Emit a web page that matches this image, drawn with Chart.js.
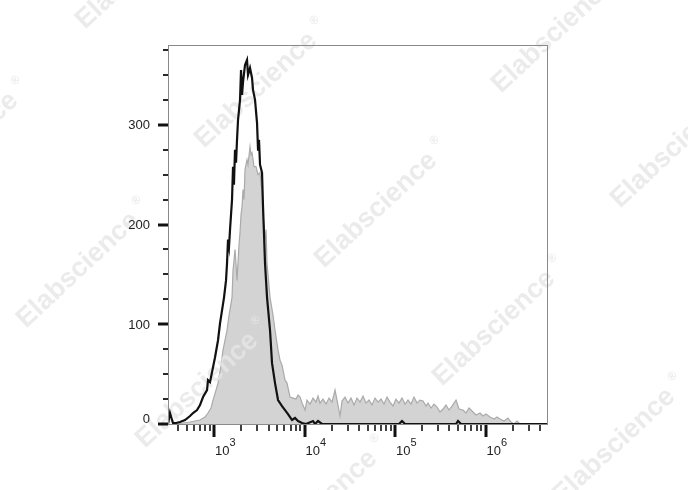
<!DOCTYPE html>
<html>
<head>
<meta charset="utf-8">
<script src="https://cdn.jsdelivr.net/npm/chart.js@4.4.1/dist/chart.umd.min.js"></script>
<style>
html,body{margin:0;padding:0;background:#fff;}
#wrap{width:688px;height:490px;position:relative;}
</style>
</head>
<body>
<div id="wrap"><canvas id="c" width="688" height="490"></canvas></div>
<script>
// ---- data (fluorescence intensity bins, event counts) ----
const blackX = [310,326,352,380,421,478,543,586,649,700,756,837,858,903,1026,1107,1165,1226,1290,1357,1392,1428,1465,1503,1581,1622,1660,1706,1750,1795,1842,1938,1988,2039,2092,2200,2315,2375,2499,2630,2697,2838,2987,3064,3140,3224,3392,3479,3569,3661,3852,4157,4375,4721,5097,5642,6088,6571,7275,7852,8476,9385,10389,12415,13062,14100,15611,110700,119500,129000,472100,496800,536200,4905000];
const blackY = [0,11,1,1,2,4,8,11,14,19,27,34,44,42,67,84,101,114,127,144,161,185,178,195,225,258,240,275,262,285,305,325,355,330,343,360,365,350,357,347,335,325,302,275,285,260,252,218,190,161,127,94,61,41,24,18,14,10,4,6,3,1,0,3,0,3,0,0,3,0,0,3,0,0];

const grayX = [380,543,617,700,795,858,926,975,1052,1107,1195,1257,1323,1392,1465,1581,1622,1706,1750,1795,1889,1938,1988,2039,2092,2146,2200,2315,2375,2499,2564,2630,2767,2911,3064,3224,3307,3392,3479,3661,3756,3852,4157,4487,4721,5097,5362,5642,6088,6406,6914,7463,8055,8476,8918,9385,10128,10656,11502,12415,13400,14100,14836,16012,17286,18658,20140,21730,22860,24680,25970,28030,30250,32650,35240,38040,41060,44310,47830,51620,55720,60140,64910,70050,75610,81600,88070,95050,102600,110700,119500,129000,139200,150300,162200,175000,188900,203900,220100,231600,250000,269800,291200,314300,339200,366000,395100,426400,472100,509600,564200,608800,657100,727500,785200,869800,938600,1013000,1121000,1241000,1340000,1446000,1601000,1773000,1914000,2065000,2229000,2406000];
const grayY = [0,2,3,4,7,11,16,24,34,41,59,74,84,94,109,127,154,175,160,144,180,192,210,218,235,225,255,265,260,278,270,272,258,258,250,252,240,235,210,185,195,161,127,109,94,74,64,59,44,41,27,26,25,29,27,21,14,24,20,26,22,28,21,25,20,26,22,34,24,8,23,27,21,26,19,26,22,28,21,24,19,26,22,25,20,27,22,18,25,21,26,20,24,20,27,21,24,23,18,21,16,20,17,12,15,19,14,18,24,15,14,11,16,12,9,11,8,10,7,5,7,5,3,6,2,0,3,0];

// ---- axes ----
const xRange = [310, 4905000];
const xMajorValues = [1e3, 1e4, 1e5, 1e6];
const xMajorBase = ['10', '10', '10', '10'];
const xMajorExponents = ['3', '4', '5', '6'];
const xDecades = [1e2, 1e3, 1e4, 1e5, 1e6];
const xMultipliers = [1, 2, 3, 4, 5, 6, 7, 8, 9];
const yRange = [-1, 380];
const yTickValues = [0, 25, 50, 75, 100, 125, 150, 175, 200, 225, 250, 275, 300, 325, 350, 375];
const yLabelValues = [0, 100, 200, 300];
const yLabels = ['0', '100', '200', '300'];

// ---- watermark ----
const watermarkText = 'Elabscience';
const watermarkCenters = [[-43,150],[78,270],[197,390],[316,508],[137,-29],[256,90],[376,210],[494,328],[614,446],[553,35],[672,150]];

const xTickValues = [];
xDecades.forEach(d => xMultipliers.forEach(m => {
  const v = d * m;
  if (v >= xRange[0] && v <= xRange[1]) xTickValues.push(v);
}));

const FONT = '"Liberation Sans", Arial, sans-serif';

function drawWatermarks(ctx) {
  ctx.save();
  ctx.fillStyle = 'rgba(230,230,230,0.8)';
  ctx.textAlign = 'center';
  ctx.textBaseline = 'middle';
  watermarkCenters.forEach(([cx, cy]) => {
    ctx.save();
    ctx.translate(cx, cy);
    ctx.rotate(-43 * Math.PI / 180);
    ctx.font = 'bold 27px ' + FONT;
    ctx.fillText(watermarkText, 0, 0);
    const w = ctx.measureText(watermarkText).width;
    ctx.font = 'bold 12px ' + FONT;
    ctx.fillText('\u00AE', w / 2 + 12, -11);
    ctx.restore();
  });
  ctx.restore();
}

const decor = {
  id: 'decor',
  afterDatasetDraw(chart, args) {
    if (args.index === 1) drawWatermarks(chart.ctx);
  },
  afterDraw(chart) {
    const { ctx, chartArea: a, scales: { x, y } } = chart;
    ctx.save();
    ctx.strokeStyle = '#8a8a8a';
    ctx.lineWidth = 1;
    ctx.strokeRect(a.left + 0.5, a.top + 0.5, a.right - a.left - 1, a.bottom - a.top - 1);
    ctx.strokeStyle = '#111';
    x.ticks.forEach(t => {
      const px = Math.round(x.getPixelForValue(t.value));
      const major = xMajorValues.includes(t.value);
      ctx.lineWidth = major ? 3 : 1.6;
      ctx.beginPath();
      ctx.moveTo(px, a.bottom);
      ctx.lineTo(px, a.bottom + (major ? 12 : 6));
      ctx.stroke();
    });
    y.ticks.forEach(t => {
      const py = Math.round(y.getPixelForValue(t.value));
      const major = yLabelValues.includes(t.value);
      ctx.lineWidth = major ? 3 : 1.8;
      ctx.beginPath();
      ctx.moveTo(a.left, py);
      ctx.lineTo(a.left - (major ? 10 : 5), py);
      ctx.stroke();
    });
    // tick labels
    ctx.fillStyle = '#222';
    ctx.textBaseline = 'alphabetic';
    ctx.textAlign = 'left';
    xMajorValues.forEach((v, i) => {
      const px = x.getPixelForValue(v) + 1;
      ctx.font = '13px ' + FONT;
      ctx.fillText(xMajorBase[i], px, a.bottom + 30);
      const w = ctx.measureText(xMajorBase[i]).width;
      ctx.font = '11px ' + FONT;
      ctx.fillText(xMajorExponents[i], px + w, a.bottom + 21);
    });
    ctx.font = '13px ' + FONT;
    ctx.textAlign = 'right';
    ctx.textBaseline = 'middle';
    yLabelValues.forEach((v, i) => {
      const py = y.getPixelForValue(v) + (v === 0 ? -5 : 1);
      ctx.fillText(yLabels[i], a.left - 18, py);
    });
    ctx.restore();
  }
};

new Chart(document.getElementById('c'), {
  type: 'line',
  data: {
    datasets: [
      {
        label: 'stained',
        data: blackX.map((v, i) => ({ x: v, y: blackY[i] })),
        borderColor: '#111111',
        borderWidth: 2.2,
        pointRadius: 0,
        tension: 0,
        fill: false
      },
      {
        label: 'control',
        data: grayX.map((v, i) => ({ x: v, y: grayY[i] })),
        borderColor: '#aaaaaa',
        borderWidth: 1.2,
        backgroundColor: '#d3d3d3',
        pointRadius: 0,
        tension: 0,
        fill: 'origin'
      }
    ]
  },
  options: {
    responsive: false,
    animation: false,
    devicePixelRatio: 1,
    layout: { padding: { top: 45, right: 140, left: 0, bottom: 0 } },
    plugins: { legend: { display: false }, tooltip: { enabled: false } },
    scales: {
      x: {
        type: 'logarithmic',
        min: xRange[0],
        max: xRange[1],
        border: { display: false },
        grid: { display: false, drawTicks: false },
        afterBuildTicks: s => { s.ticks = xTickValues.map(v => ({ value: v, major: xMajorValues.includes(v) })); },
        afterFit: s => { s.height = 65; },
        ticks: { display: false, autoSkip: false }
      },
      y: {
        type: 'linear',
        min: yRange[0],
        max: yRange[1],
        border: { display: false },
        grid: { display: false, drawTicks: false },
        afterBuildTicks: s => { s.ticks = yTickValues.map(v => ({ value: v })); },
        afterFit: s => { s.width = 168; },
        ticks: { display: false, autoSkip: false }
      }
    }
  },
  plugins: [decor]
});
</script>
</body>
</html>
